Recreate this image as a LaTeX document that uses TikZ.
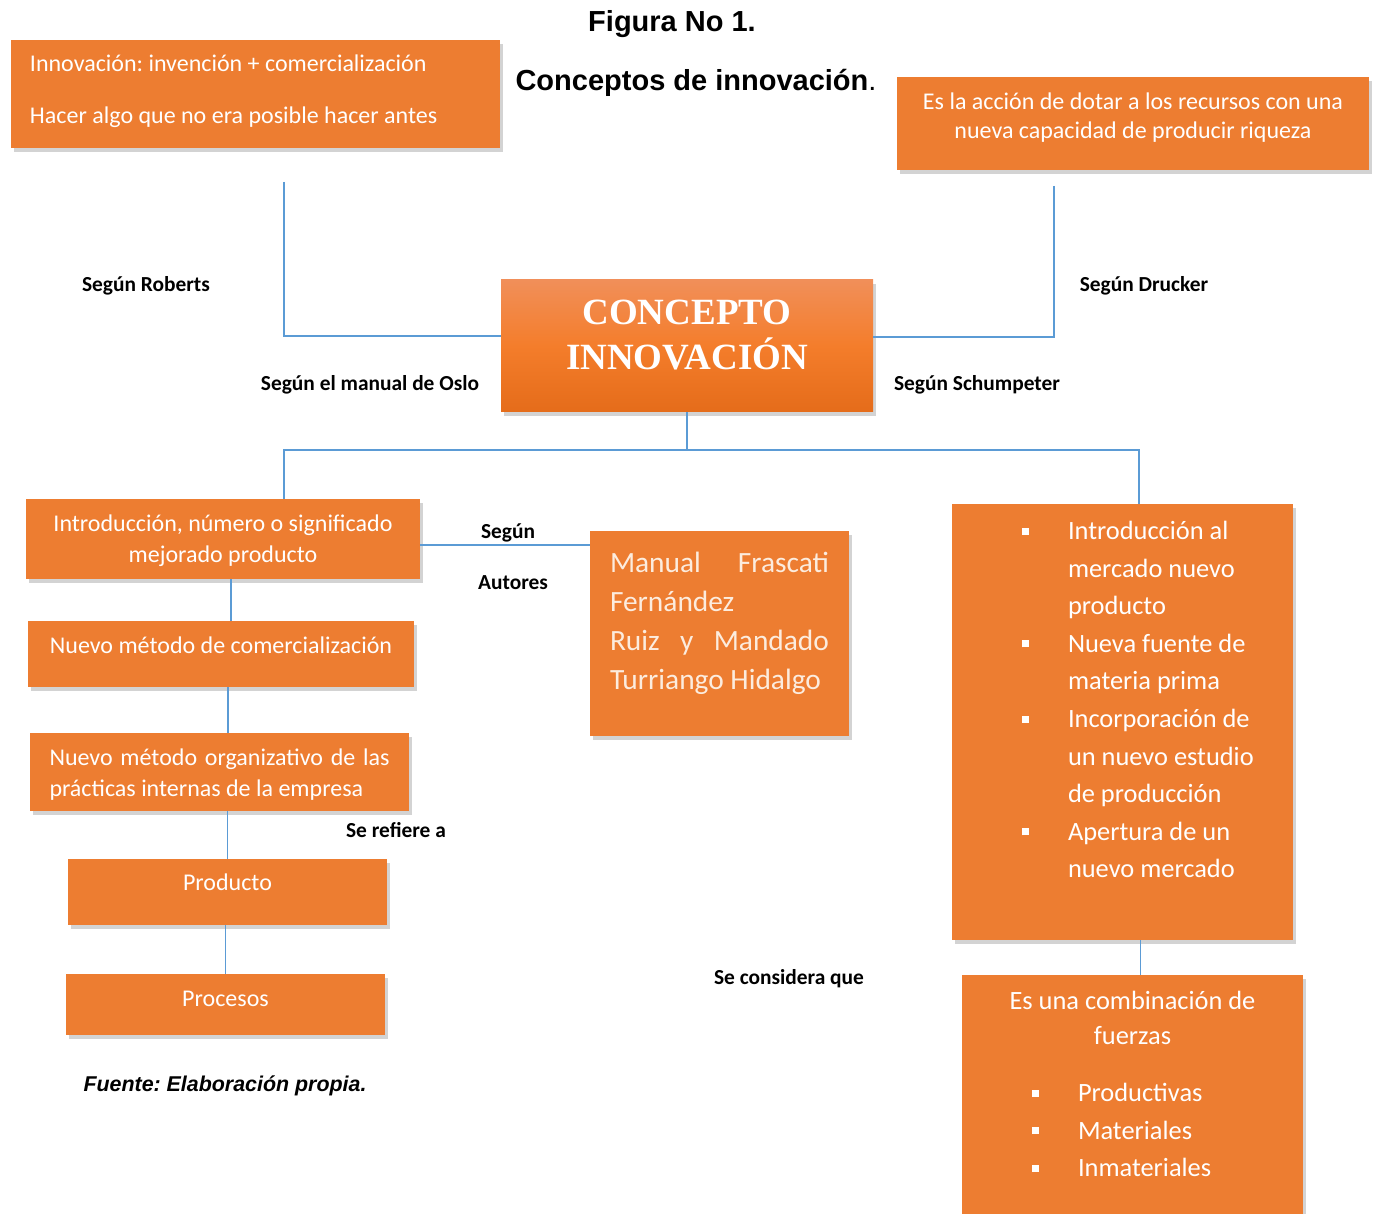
\documentclass[tikz,border=0pt]{standalone}
\usepackage{fontspec}
\setmainfont{Carlito}
\newfontfamily\arialfont{Liberation Sans}
\newfontfamily\timesfont{Liberation Serif}
\usetikzlibrary{shadows,calc}
\definecolor{oc}{RGB}{237,125,49}
\definecolor{lc}{RGB}{91,155,213}
\definecolor{pc}{RGB}{252,236,222}
\definecolor{gt}{RGB}{241,143,89}
\definecolor{gm}{RGB}{244,125,43}
\definecolor{gb}{RGB}{229,108,26}
\frenchspacing
\newcommand{\sqb}{\rule[2.5pt]{3.5pt}{3.5pt}}
\newcommand{\itm}[1]{\hspace*{35pt}\makebox[23pt][l]{\sqb}#1}
\newcommand{\cnt}[1]{\hspace*{58pt}#1}
\tikzset{bx/.style={fill=oc,text=white,inner sep=0pt,font=\fontsize{12}{14.5}\selectfont,
   execute at begin node={\spaceskip=\fontdimen2\font\relax\xspaceskip=\spaceskip},
   drop shadow={shadow xshift=1.5pt,shadow yshift=-1.8pt,opacity=.35}},
 cbox/.style={bx,top color=gt,bottom color=gb,middle color=gm,
   font=\timesfont\bfseries\fontsize{18.5}{22.5}\selectfont},
 lab/.style={font=\fontsize{10.7}{13}\selectfont\bfseries},
 wire/.style={draw=lc,line width=.6pt}}

\begin{document}
\begin{tikzpicture}[x=0.5pt,y=-0.5pt]
\useasboundingbox (0,0) rectangle (1377,1214);
% titulo
\node[font=\arialfont\bfseries\fontsize{14.5}{17}\selectfont] (titulo) at (672,24) {Figura No 1.};
\node[font=\arialfont\fontsize{14.5}{17}\selectfont] (subtitulo) at (696,83) {\textbf{Conceptos de innovación}.};
% cajas
\node[bx,anchor=base,inner xsep=9.5pt,text width=225.5pt,align=left,text height=15.75pt,text depth=38.25pt] (roberts) at (255.5,71.5) {Innovación: invención + comercialización\\[11.5pt] Hacer algo que no era posible hacer antes};
\node[bx,anchor=base,minimum width=236pt,text width=220pt,align=center,text height=16.25pt,text depth=30.25pt] (drucker) at (1133,109.5) {Es la acción de dotar a los recursos con una\\ nueva capacidad de producir riqueza};
\node[cbox,anchor=base,minimum width=186pt,text width=180pt,align=center,text height=22.5pt,text depth=43.5pt] (concepto) at (687,325) {CONCEPTO\\ INNOVACIÓN};
\node[bx,anchor=base,minimum width=197pt,text width=185pt,align=center,text height=16.25pt,text depth=23.75pt] (oslo) at (223,531.5) {Introducción, número o significado\\[1pt] mejorado producto};
\node[bx,anchor=base,minimum width=193pt,text width=185pt,align=center,text height=16.25pt,text depth=16.75pt] (comerc) at (221,653.5) {Nuevo método de comercialización};
\node[bx,anchor=base,minimum width=189.5pt,text width=170pt,align=left,text height=16.25pt,text depth=22.75pt] (organiz) at (219.5,765.5) {Nuevo\hfill método\hfill organizativo\hfill de\hfill las\\[1pt] prácticas internas de la empresa};
\node[bx,anchor=base,minimum width=159.5pt,text width=150pt,align=center,text height=15.75pt,text depth=17.25pt] (producto) at (227.5,890.5) {Producto};
\node[bx,anchor=base,minimum width=159.5pt,text width=150pt,align=center,text height=16.25pt,text depth=14.25pt] (procesos) at (225.5,1006.5) {Procesos};
\node[bx,anchor=base,text=pc,minimum width=129.5pt,text width=109.5pt,align=left,font=\fontsize{14.7}{19.5}\selectfont,text height=20.75pt,text depth=81.75pt] (autores) at (719.5,572.5) {Manual\hfill Frascati\\ Fernández\\ Ruiz\hfill y\hfill Mandado\\ Turriango Hidalgo};
\node[bx,anchor=base,text width=170.5pt,align=left,font=\fontsize{13.2}{18.8}\selectfont,text height=17.75pt,text depth=200.25pt] (schump) at (1122.5,539.5) {\itm{Introducción al}\\ \cnt{mercado nuevo}\\ \cnt{producto}\\ \itm{Nueva fuente de}\\ \cnt{materia prima}\\ \itm{Incorporación de}\\ \cnt{un nuevo estudio}\\ \cnt{de producción}\\ \itm{Apertura de un}\\ \cnt{nuevo mercado}};
\node[bx,anchor=base,text width=170.5pt,align=center,font=\fontsize{13.2}{17.5}\selectfont,text height=17.25pt,text depth=103.25pt] (fuerzas) at (1132.5,1009.5) {Es una combinación de\\ fuerzas\\[11pt] \makebox[\hsize][l]{\itm{Productivas}}\\[1.25pt] \makebox[\hsize][l]{\itm{Materiales}}\\[1.25pt] \makebox[\hsize][l]{\itm{Inmateriales}}};
% etiquetas
\node[lab] (lroberts) at (146,286) {Según Roberts};
\node[lab] (ldrucker) at (1144,286) {Según Drucker};
\node[lab] (loslo) at (370,385) {Según el manual de Oslo};
\node[lab] (lschump) at (977,385) {Según Schumpeter};
\node[lab] (lsegun) at (508,533) {Según};
\node[lab] (lautores) at (513,583) {Autores};
\node[lab] (lrefiere) at (396,830) {Se refiere a};
\node[lab] (lconsidera) at (789,979) {Se considera que};
\node[font=\arialfont\bfseries\itshape\fontsize{10.7}{13}\selectfont] (fuente) at (225,1086) {Fuente: Elaboración propia.};
% conectores
\coordinate (rob) at (284,182);
\coordinate (dru) at (1054,186);
\coordinate (hub) at (687,450);
\draw[wire] (rob) |- ([yshift=5pt]concepto.west);
\draw[wire] (dru) |- ([yshift=4.5pt]concepto.east);
\draw[wire] (concepto.south) -- (hub);
\draw[wire] ([xshift=30.5pt]oslo.north) |- (hub) -| ([xshift=8.25pt]schump.north);
\draw[wire] ([yshift=-3pt]oslo.east) -- ([yshift=-3pt]oslo.east -| autores.west);
\draw[wire] ([xshift=4pt]oslo.south) -- ([xshift=4pt]oslo.south |- comerc.north);
\draw[wire] ([xshift=3.5pt]comerc.south) -- ([xshift=3.5pt]comerc.south |- organiz.north);
\draw[wire] (producto.north) -- (producto.north |- organiz.south);
\draw[wire] (procesos.north) -- (procesos.north |- producto.south);
\draw[wire] ([xshift=4pt]fuerzas.north) -- ([xshift=4pt]fuerzas.north |- schump.south);
\end{tikzpicture}
\end{document}
